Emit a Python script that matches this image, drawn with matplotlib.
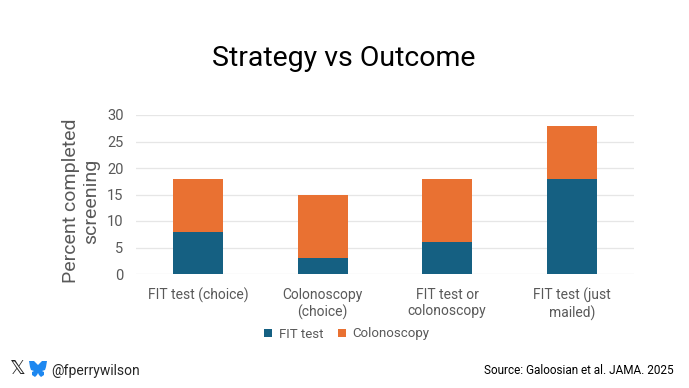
import matplotlib
matplotlib.use('Agg')
import matplotlib.pyplot as plt
from matplotlib.patches import PathPatch
from matplotlib.path import Path
import numpy as np

W, H = 689, 388

categories = ['FIT test (choice)', 'Colonoscopy\n(choice)', 'FIT test or\ncolonoscopy', 'FIT test (just\nmailed)']
fit_test = [8, 3, 6, 18]
colonoscopy = [10, 12, 12, 10]
y_ticks = [0, 5, 10, 15, 20, 25, 30]

plt.rcParams['font.family'] = ['Roboto', 'DejaVu Sans']

fig = plt.figure(figsize=(W / 100, H / 100), dpi=100, facecolor='white')
ax = fig.add_axes([136 / W, 1 - 274 / H, (634 - 136) / W, (274 - 115) / H])

x = np.arange(len(categories))
ax.bar(x, fit_test, width=0.4, color='#156082', label='FIT test')
ax.bar(x, colonoscopy, width=0.4, bottom=fit_test, color='#E97132', label='Colonoscopy')

ax.set_xlim(-0.5, 3.5)
ax.set_ylim(0, 30)
ax.set_xticks(x)
ax.set_xticklabels(categories, fontsize=10, color='#595959', linespacing=1.2)
ax.set_yticks(y_ticks)
ax.tick_params(axis='y', length=0, labelsize=10.5, labelcolor='#595959', pad=9)
ax.tick_params(axis='x', length=0, pad=10)
ax.grid(axis='y', color='#E6E6E6', linewidth=0.9)
ax.set_axisbelow(True)
for s in ax.spines.values():
    s.set_visible(False)

# y label is two lines, sits left of the ticks
fig.text(81 / W, 1 - 201 / H, 'Percent completed\nscreening', rotation=90, ha='center', va='center',
         fontsize=14, color='#595959', multialignment='center', linespacing=1.2)

fig.text(344 / W, 1 - 59 / H, 'Strategy vs Outcome', ha='center', va='center', fontsize=20.5, color='black')

fig.legend(loc='center', bbox_to_anchor=(347 / W, 1 - 334 / H), ncol=2, frameon=False, fontsize=9.5,
           labelcolor='#595959', handlelength=0.6, handleheight=0.6, handletextpad=0.5, columnspacing=1.1)

# footer
fig.text(51 / W, 1 - 371 / H, '@fperrywilson', ha='left', va='center', fontsize=10, color='#262626')
fig.text(674 / W, 1 - 370 / H, 'Source: Galoosian et al. JAMA. 2025', ha='right', va='center', fontsize=8.5, color='black')

# X logo
fig.text(18 / W, 1 - 368 / H, '\U0001D54F', ha='center', va='center', fontsize=14, color='#222222',
         family='DejaVu Sans')

# butterfly logo, pixel coords
def px(a, b):
    return (a / W, 1 - b / H)

verts = [px(38, 365), px(34, 361), px(29, 361), px(30, 367), px(31, 370), px(34, 371), px(32, 372),
         px(32, 375), px(35, 377), px(37, 375), px(38, 373),
         px(39, 375), px(41, 377), px(44, 375), px(44, 372),
         px(42, 371), px(45, 370), px(46, 367), px(47, 361), px(42, 361), px(38, 365), px(38, 365)]
codes = [Path.MOVETO] + [Path.LINETO] * 20 + [Path.CLOSEPOLY]
fig.add_artist(PathPatch(Path(verts, codes), facecolor='#1E88F0', edgecolor='none', transform=fig.transFigure))

fig.savefig('out.png', dpi=100, facecolor='white')
